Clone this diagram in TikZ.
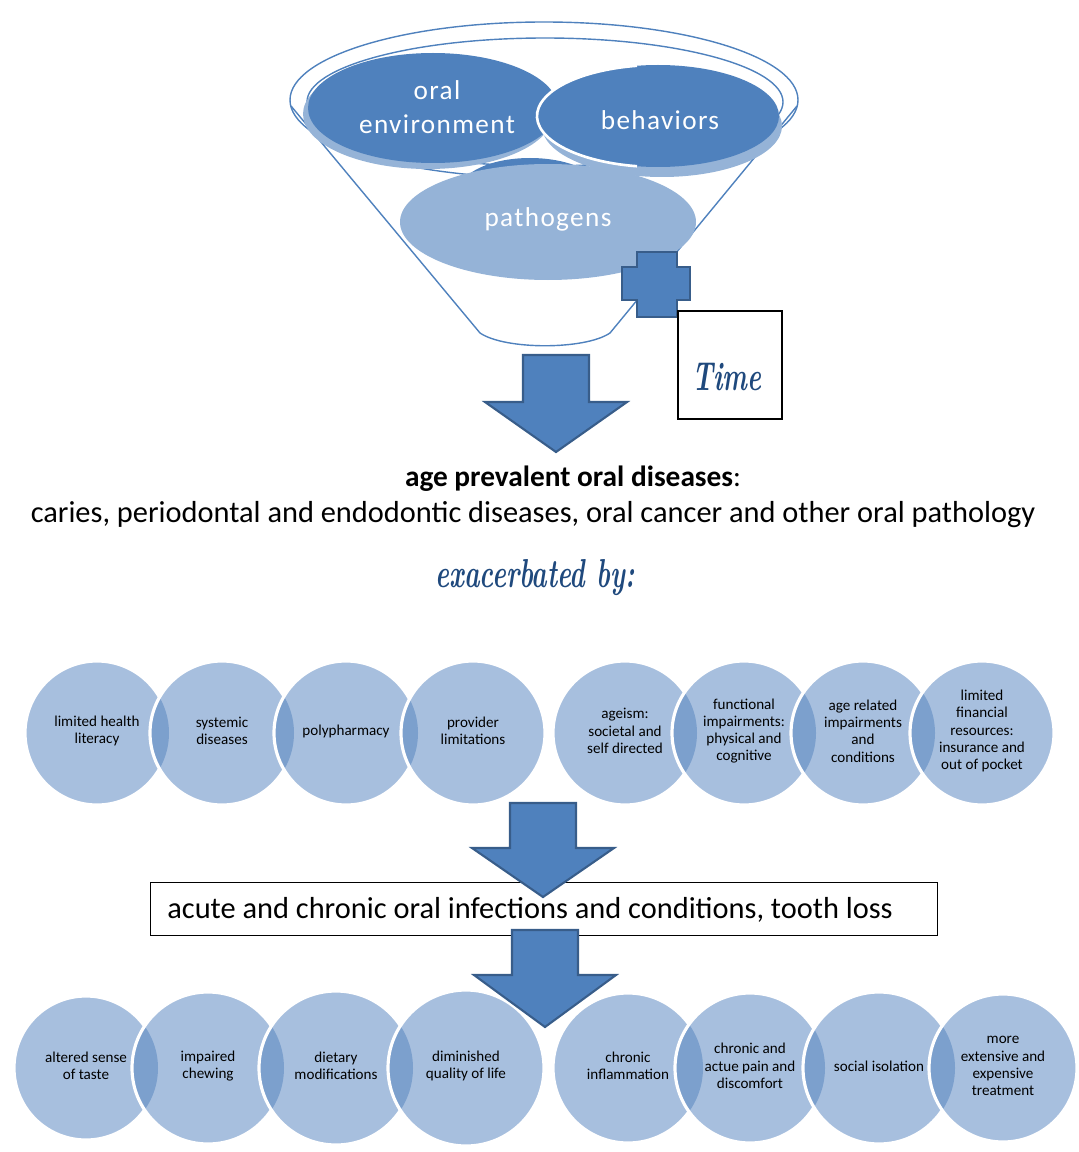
\documentclass[tikz,border=0pt]{standalone}
\usepackage{fontspec}
\setmainfont{Carlito}
\newfontfamily\handfont{lmroman10-bolditalic.otf}
\newfontfamily\funnelfont[LetterSpace=5]{Carlito}

\definecolor{funnelblue}{RGB}{79,129,189}
\definecolor{edgeblue}{RGB}{56,93,138}
\definecolor{paleblue}{RGB}{149,179,215}
\definecolor{bubbleblue}{RGB}{167,191,222}
\definecolor{lensblue}{RGB}{124,160,205}
\definecolor{inkblue}{RGB}{31,73,125}

\begin{document}
\begin{tikzpicture}[x=0.02cm,y=-0.02cm,
    bubble/.style={fill=bubbleblue},
    lens/.style={fill=lensblue},
    bubbleedge/.style={draw=white,line width=1.8pt},
    bubbletext/.style={font=\fontsize{8.6}{9.8}\selectfont,align=center,text=black,inner sep=0pt},
    blockarrow/.style={fill=funnelblue,draw=edgeblue,line width=1.2pt,line join=miter},
    rim/.style={draw=funnelblue,line width=0.8pt},
    funneltext/.style={font=\funnelfont\fontsize{15.5}{19.3}\selectfont,text=white,align=center},
    bigtext/.style={font=\fontsize{17.3}{21}\selectfont,inner sep=0pt},
    handtext/.style={font=\handfont\fontsize{23}{27}\selectfont,text=inkblue,xscale=0.65,transform shape},
    plainbox/.style={draw=black,line width=0.7pt,fill=white}]
    \newcommand{\blockdown}[4]{% centre x, top y, head y, tip y
      \filldraw[blockarrow] (#1-33,#2) -- (#1+33,#2) -- (#1+33,#3) -- (#1+71,#3)
        -- (#1,#4) -- (#1-71,#3) -- (#1-33,#3) -- cycle;}

    \useasboundingbox (0,0) rectangle (1078,1152);

    % funnel
    \draw[rim] (544,100) ellipse [x radius=254, y radius=78];
    \draw[rim] (291,106) -- (480,333) .. controls (505,350) and (585,350) .. (610,333) -- (797,106);
    \draw[rim] (545,102) ellipse [x radius=238, y radius=64];

    \fill[funnelblue] (530,190) ellipse [x radius=70, y radius=32];
    \fill[paleblue] (548,222) ellipse [x radius=148, y radius=58];
    \fill[paleblue] (428,114) ellipse [x radius=125, y radius=55];
    \fill[funnelblue] (433,108) ellipse [x radius=125, y radius=55];
    \fill[paleblue] (662,126) ellipse [x radius=120, y radius=51];
    \fill[funnelblue] (658,116) ellipse [x radius=121, y radius=51];
    \draw[white,line width=1.5pt] (658,116) ++(100:121 and 51)
      arc [start angle=100, end angle=260, x radius=121, y radius=51];

    \node[funneltext] (oralenv) at (437,107) {oral\\environment};
    \node[funneltext] (behav) at (660,120) {behaviors};
    \node[funneltext] (patho) at (548,219) {pathogens};

    % plus and time
    \filldraw[fill=funnelblue,draw=edgeblue,line width=1.6pt]
      (637,252) -- (677,252) -- (677,267) -- (690,267) -- (690,300) -- (677,300)
      -- (677,317) -- (637,317) -- (637,300) -- (622,300) -- (622,267) -- (637,267) -- cycle;
    \node[plainbox,minimum width=2.08cm,minimum height=2.16cm] (timebox) at (730,365) {};
    \node[handtext] (time) at (727,377) {Time};

    \blockdown{556}{355}{402}{452}

    % diseases
    \node[bigtext,font=\fontsize{16.7}{21}\selectfont] (agehead) at (573,479) {\textbf{age prevalent oral diseases}:};
    \node[bigtext] (caries) at (533,515) {caries, periodontal and endodontic diseases, oral cancer and other oral pathology};
    \node[handtext] (exacer) at (535,578) {exacerbated by:};

    % first row of circles
    \foreach \cx/\r/\px/\pr in {97/72/0/0,222/72/97/72,346/72/222/72,473/72/346/72,
        625/72/0/0,744/72/625/72,863/72/744/72,982/72/863/72}{
      \fill[bubble] (\cx,733) circle [radius=\r];
      \ifnum\px>0
        \begin{scope}
          \clip (\px,733) circle [radius=\pr];
          \fill[lens] (\cx,733) circle [radius=\r];
        \end{scope}
      \fi
      \draw[bubbleedge] (\cx,733) circle [radius=\r];
    }
    \foreach \cx/\txt [count=\i] in {97/{limited health\\literacy},222/{systemic\\diseases},
        346/{polypharmacy},473/{provider\\limitations},625/{ageism:\\societal and\\self directed},
        744/{functional\\impairments:\\physical and\\cognitive},863/{age related\\impairments\\and\\conditions},
        982/{limited\\financial\\resources:\\insurance and\\out of pocket}}{
      \node[bubbletext] (cause\i) at (\cx,731) {\txt};
    }

    % middle box
    \node[plainbox,anchor=north west,minimum width=15.74cm,minimum height=1.06cm] (infectbox) at (150,882) {};
    \node[bigtext,anchor=west] (infect) at (167,910) {acute and chronic oral infections and conditions, tooth loss};

    % second row of circles
    \foreach \cx/\r/\px/\pr in {86/72/0/0,208/76/86/72,336/77/208/76,466/78/336/77,
        628/75/0/0,750/75/628/75,879/76/750/75,1003/74/879/76}{
      \fill[bubble] (\cx,1068) circle [radius=\r];
      \ifnum\px>0
        \begin{scope}
          \clip (\px,1068) circle [radius=\pr];
          \fill[lens] (\cx,1068) circle [radius=\r];
        \end{scope}
      \fi
      \draw[bubbleedge] (\cx,1068) circle [radius=\r];
    }
    \foreach \cx/\txt [count=\i] in {86/{altered sense\\of taste},208/{impaired\\chewing},
        336/{dietary\\modifications},466/{diminished\\quality of life},628/{chronic\\inflammation},
        750/{chronic and\\actue pain and\\discomfort},879/{social isolation},
        1003/{more\\extensive and\\expensive\\treatment}}{
      \node[bubbletext] (effect\i) at (\cx,1066) {\txt};
    }

    \blockdown{543}{803}{848}{897}
    \blockdown{545}{930}{975}{1027}
\end{tikzpicture}
\end{document}
